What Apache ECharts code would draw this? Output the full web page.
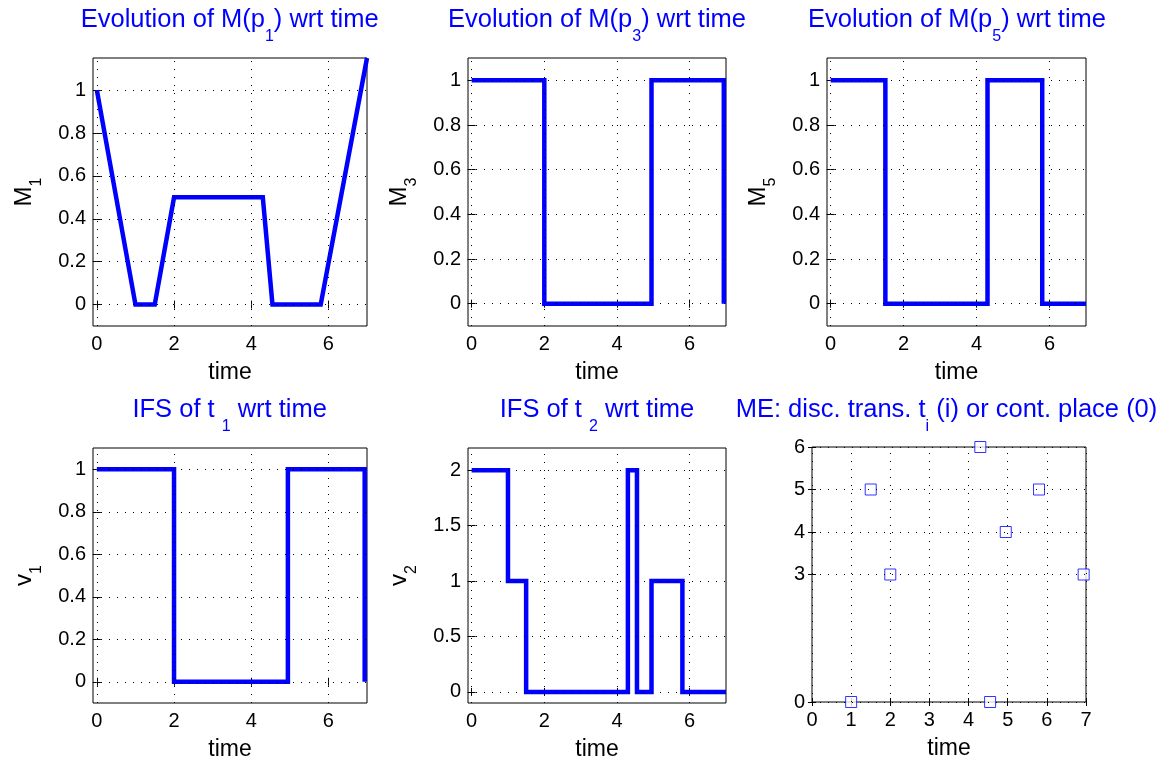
<!DOCTYPE html>
<html><head><meta charset="utf-8">
<script src="https://cdn.jsdelivr.net/npm/echarts@6/dist/echarts.min.js"></script>
<style>html,body{margin:0;padding:0;background:#fff}#c{width:1163px;height:759px}</style>
</head><body><div id="c"></div>
<script>
// ---------------- data ----------------
const m1Time  = [0, 1, 1.5, 2, 4.3, 4.55, 5.8, 7.0];
const m1Value = [1, 0, 0, 0.5, 0.5, 0, 0, 1.15];
const m3Time  = [0, 2, 4.95, 6.94];
const m3Value = [1, 0, 1, 0];
const m5Time  = [0, 1.5, 4.3, 5.8, 7.0];
const m5Value = [1, 0, 1, 0, 0];
const v1Time  = [0, 2, 4.95, 6.94];
const v1Value = [1, 0, 1, 0];
const v2Time  = [0, 1, 1.5, 4.3, 4.55, 4.95, 5.8, 7.0];
const v2Value = [2, 1, 0, 2, 0, 1, 0, 0];
const meTime  = [1, 1.5, 2, 4.3, 4.55, 4.95, 5.8, 6.94];
const meEvent = [0, 5, 3, 6, 0, 4, 5, 3];

const timeTicks    = [0, 2, 4, 6];
const markTicks    = [0, 0.2, 0.4, 0.6, 0.8, 1];
const v2Ticks      = [0, 0.5, 1, 1.5, 2];
const meTimeTicks  = [0, 1, 2, 3, 4, 5, 6, 7];
const meEventTicks = [0, 3, 4, 5, 6];

// ---------------- style / layout ----------------
const FONT = '"Liberation Sans", Arial, Helvetica, sans-serif';
const BLUE = '#0000ff';
const TICK_FS = 20, NAME_FS = 23, YNAME_FS = 24, TITLE_FS = 25.5, SUB_FS = 16;

function rich(color, mainSize, subSize, pad) {
  return {
    m: {fontSize: mainSize, fontFamily: FONT, fontWeight: 'normal', color: color, verticalAlign: 'top'},
    s: {fontSize: subSize, fontFamily: FONT, fontWeight: 'normal', color: color, verticalAlign: 'top', padding: [pad, 0, 0, 0]}
  };
}

const panels = [
  {grid: {left: 93, top: 58, width: 274, height: 268}, title: '{m|Evolution of M(p}{s|1}{m|) wrt time}', tx: 229.7, ty: 7,
   x: [-0.1, 7], xt: timeTicks, y: [-0.1, 1.15], yt: markTicks, yName: '{m|M}{s|1}'},
  {grid: {left: 468, top: 58, width: 258, height: 268}, title: '{m|Evolution of M(p}{s|3}{m|) wrt time}', tx: 597, ty: 7,
   x: [-0.1, 7], xt: timeTicks, y: [-0.1, 1.1], yt: markTicks, yName: '{m|M}{s|3}'},
  {grid: {left: 827, top: 58, width: 259, height: 268}, title: '{m|Evolution of M(p}{s|5}{m|) wrt time}', tx: 957, ty: 7,
   x: [-0.1, 7], xt: timeTicks, y: [-0.1, 1.1], yt: markTicks, yName: '{m|M}{s|5}'},
  {grid: {left: 93, top: 448, width: 274, height: 255}, title: '{m|IFS of t }{s|1}{m| wrt time}', tx: 229.7, ty: 397,
   x: [-0.1, 7], xt: timeTicks, y: [-0.1, 1.1], yt: markTicks, yName: '{m|v}{s|1}'},
  {grid: {left: 468, top: 448, width: 258, height: 255}, title: '{m|IFS of t }{s|2}{m| wrt time}', tx: 597, ty: 397,
   x: [-0.1, 7], xt: timeTicks, y: [-0.1, 2.2], yt: v2Ticks, yName: '{m|v}{s|2}'},
  {grid: {left: 812, top: 447, width: 274, height: 255}, title: '{m|ME: disc. trans. t}{s|i}{m| (i) or cont. place (0)}', tx: 946.5, ty: 397,
   x: [0, 7], xt: meTimeTicks, y: [0, 6], yt: meEventTicks, yName: ''}
];

const grids = [], xAxes = [], yAxes = [], titles = [], gridSeries = [];

panels.forEach((p, i) => {
  grids.push(Object.assign({show: true, borderColor: '#000', borderWidth: 1, backgroundColor: '#fff',
    containLabel: false, outerBoundsMode: 'none'}, p.grid));
  titles.push({text: p.title, left: p.tx, top: p.ty, textAlign: 'center', padding: 0,
    textStyle: {fontWeight: 'normal', rich: rich(BLUE, TITLE_FS, SUB_FS, 22)}});
  const tick = (vals) => ({show: true, inside: true, length: 4, lineStyle: {color: '#000', width: 1}, customValues: vals});
  xAxes.push({type: 'value', gridIndex: i, position: 'bottom', min: p.x[0], max: p.x[1],
    axisLine: {show: false}, axisTick: tick(p.xt),
    axisLabel: {show: true, customValues: p.xt, margin: 8, color: '#000', fontSize: TICK_FS, fontFamily: FONT},
    splitLine: {show: false},
    name: 'time', nameLocation: 'middle', nameGap: 35,
    nameTextStyle: {color: '#000', fontSize: NAME_FS, fontFamily: FONT}});
  xAxes.push({type: 'value', gridIndex: i, position: 'top', min: p.x[0], max: p.x[1],
    axisLine: {show: false}, axisTick: tick(p.xt), axisLabel: {show: false}, splitLine: {show: false}});
  yAxes.push({type: 'value', gridIndex: i, position: 'left', min: p.y[0], max: p.y[1],
    axisLine: {show: false}, axisTick: tick(p.yt),
    axisLabel: {show: true, customValues: p.yt, margin: 7, color: '#000', fontSize: TICK_FS, fontFamily: FONT},
    splitLine: {show: false},
    name: p.yName, nameLocation: 'middle', nameGap: 48,
    nameTextStyle: {rich: rich('#000', YNAME_FS, SUB_FS, 17)}});
  yAxes.push({type: 'value', gridIndex: i, position: 'right', min: p.y[0], max: p.y[1],
    axisLine: {show: false}, axisTick: tick(p.yt), axisLabel: {show: false}, splitLine: {show: false}});
  // dotted grid lines at the tick values (MATLAB "grid on")
  gridSeries.push({
    type: 'line', xAxisIndex: 2 * i, yAxisIndex: 2 * i, data: [], z: 1, silent: true, animation: false,
    markLine: {
      silent: true, animation: false, symbol: ['none', 'none'], label: {show: false},
      lineStyle: {color: '#000', width: 1, type: [1, 7], opacity: 1},
      emphasis: {disabled: true},
      data: p.xt.map(v => ({xAxis: v})).concat(p.yt.map(v => ({yAxis: v})))
    }
  });
});

const pairs = (t, v) => t.map((x, k) => [x, v[k]]);
const lineSeries = (i, t, v, step) => ({
  type: 'line', xAxisIndex: 2 * i, yAxisIndex: 2 * i, data: pairs(t, v), step: step,
  symbol: 'none', lineStyle: {color: BLUE, width: 4.5, join: 'miter'}, animation: false, z: 3
});

const series = gridSeries.concat([
  lineSeries(0, m1Time, m1Value, false),
  lineSeries(1, m3Time, m3Value, 'end'),
  lineSeries(2, m5Time, m5Value, 'end'),
  lineSeries(3, v1Time, v1Value, 'end'),
  lineSeries(4, v2Time, v2Value, 'end'),
  {type: 'scatter', xAxisIndex: 10, yAxisIndex: 10, data: pairs(meTime, meEvent), clip: false,
   symbol: 'rect', symbolSize: 11,
   itemStyle: {color: '#fff', borderColor: BLUE, borderWidth: 1}, animation: false, z: 3}
]);

const chart = echarts.init(document.getElementById('c'), null, {renderer: 'canvas'});
chart.setOption({
  backgroundColor: '#fff',
  animation: false,
  title: titles,
  grid: grids,
  xAxis: xAxes,
  yAxis: yAxes,
  series: series
});
</script>
</body></html>
